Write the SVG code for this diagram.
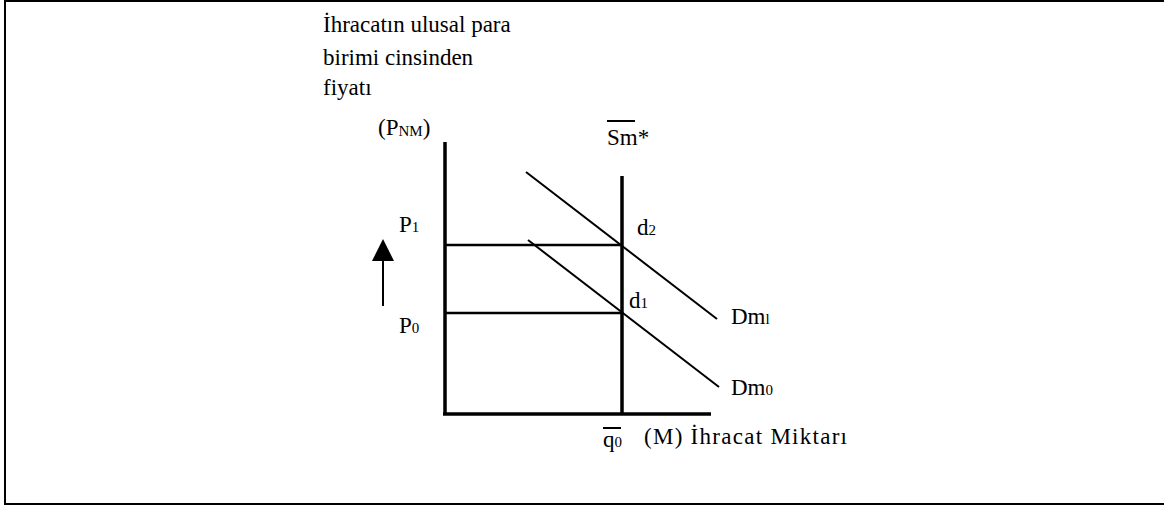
<svg xmlns="http://www.w3.org/2000/svg" width="1164" height="506" viewBox="0 0 1164 506">
<style>
text{font-family:"Liberation Serif","Times New Roman",serif;font-size:23px;fill:#000}
.sub{font-size:15px}
.axis{stroke:#000;stroke-width:3.5;fill:none}
.hline{stroke:#000;stroke-width:2.5;fill:none}
.dline{stroke:#000;stroke-width:2;fill:none}
</style>
<rect x="5" y="1" width="1165" height="503" fill="#fff" stroke="#000" stroke-width="2"/>
<g id="title">
<text x="323" y="32">İhracatın ulusal para</text>
<text x="323" y="65">birimi cinsinden</text>
<text x="323" y="95">fiyatı</text>
</g>
<g id="y-label"><text x="378" y="135">(P<tspan class="sub" dy="1">NM</tspan><tspan dy="-1">)</tspan></text></g>
<g id="sm-label">
<text x="607" y="145">Sm*</text>
<line x1="607" y1="121" x2="635" y2="121" stroke="#000" stroke-width="2"/>
</g>
<g id="q0-label">
<text x="603" y="447">q<tspan class="sub">0</tspan></text>
<line x1="603" y1="428" x2="621" y2="428" stroke="#000" stroke-width="2"/>
</g>
<g id="x-label"><text x="644" y="444" font-size="24" textLength="203" lengthAdjust="spacing">(M) İhracat Miktarı</text></g>
<g id="p1-label"><text x="399" y="232">P<tspan class="sub">1</tspan></text></g>
<g id="p0-label"><text x="399" y="333">P<tspan class="sub">0</tspan></text></g>
<g id="d2-label"><text x="637" y="235">d<tspan class="sub">2</tspan></text></g>
<g id="d1-label"><text x="629" y="308">d<tspan class="sub">1</tspan></text></g>
<g id="dm1-label"><text x="731" y="324">Dm<tspan class="sub">l</tspan></text></g>
<g id="dm0-label"><text x="731" y="395">Dm<tspan class="sub">0</tspan></text></g>
<g id="connectors">
<line class="axis" x1="445" y1="142" x2="445" y2="415"/>
<line class="axis" x1="443" y1="414" x2="711" y2="414"/>
<line class="axis" x1="622" y1="176" x2="622" y2="414"/>
<line class="hline" x1="445" y1="245" x2="622" y2="245"/>
<line class="hline" x1="445" y1="313" x2="622" y2="313"/>
<line class="dline" x1="526" y1="172" x2="717" y2="319"/>
<line class="dline" x1="528" y1="240" x2="719" y2="387"/>
<line class="dline" x1="383" y1="306" x2="383" y2="258"/>
<polygon points="383,239 372,261 394,261" fill="#000"/>
</g>
</svg>
